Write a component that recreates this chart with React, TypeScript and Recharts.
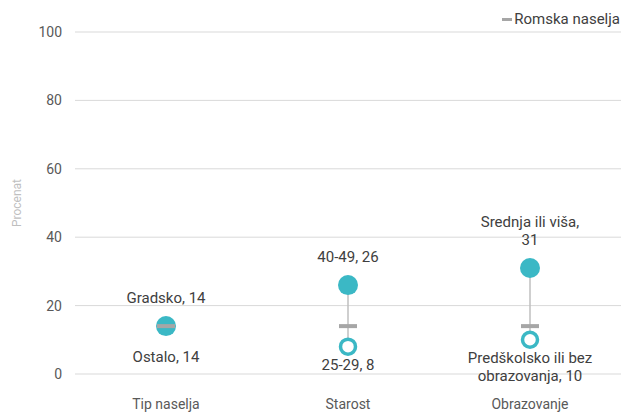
import React from 'react';
import { ComposedChart, Bar, Scatter, XAxis, YAxis, CartesianGrid } from 'recharts';

const categories = ['Tip naselja', 'Starost', 'Obrazovanje'];
const highValues = [14, 26, 31];
const lowValues = [14, 8, 10];
const romaValues = [14, 14, 14];
const highLabels = [['Gradsko, 14'], ['40-49, 26'], ['Srednja ili viša,', '31']];
const lowLabels = [['Ostalo, 14'], ['25-29, 8'], ['Predškolsko ili bez', 'obrazovanja, 10']];
const yTicks = [0, 20, 40, 60, 80, 100];

const TEAL = '#3bb8c5';
const GRAY = '#a6a6a6';
const TEXT = '#404040';
const FONT = 'Roboto, "Open Sans", sans-serif';

const data = categories.map((name, i) => ({
  name,
  high: highValues[i],
  low: lowValues[i],
  roma: romaValues[i],
  range: [lowValues[i], highValues[i]],
}));

const RangeLine = (props: any) => {
  const { x, y, width, height } = props;
  if (!height) return null;
  const cx = x + width / 2;
  return <line x1={cx} x2={cx} y1={y} y2={y + height} stroke="#bfbfbf" strokeWidth={1.5} />;
};

const HighDot = (props: any) => {
  const { cx, cy, index } = props;
  const lines = highLabels[index];
  const lastY = cy - 28;
  return (
    <g>
      <circle cx={cx} cy={cy} r={10} fill={TEAL} />
      {lines.map((t, k) => (
        <text key={k} x={cx} y={lastY - (lines.length - 1 - k) * 18} textAnchor="middle" dominantBaseline="central"
          fontSize={15} fill={TEXT} fontFamily={FONT}>{t}</text>
      ))}
    </g>
  );
};

const LowDot = (props: any) => {
  const { cx, cy, index } = props;
  const lines = lowLabels[index];
  const same = lowValues[index] === highValues[index];
  const firstY = cy + (same ? 31 : 18);
  return (
    <g>
      {!same && <circle cx={cx} cy={cy} r={7.5} fill="#fff" stroke={TEAL} strokeWidth={3.5} />}
      {lines.map((t, k) => (
        <text key={k} x={cx} y={firstY + k * 18} textAnchor="middle" dominantBaseline="central"
          fontSize={15} fill={TEXT} fontFamily={FONT}>{t}</text>
      ))}
    </g>
  );
};

const RomaDash = (props: any) => {
  const { cx, cy } = props;
  return <rect x={cx - 9} y={cy - 2} width={18} height={4} fill={GRAY} />;
};

export default function App() {
  return (
    <div style={{ position: 'absolute', left: 0, top: 0, width: 621, height: 412, background: '#fff' }}>
      <div style={{ position: 'absolute', top: 10, right: 1, display: 'flex', alignItems: 'center', fontFamily: FONT, fontSize: 15, color: TEXT, zIndex: 2 }}>
        <span style={{ display: 'inline-block', width: 10, height: 3, background: GRAY, marginRight: 2 }} />
        <span>Romska naselja</span>
      </div>
      <ComposedChart width={621} height={412} data={data} margin={{ top: 32, right: 0, bottom: 0, left: 0 }}>
        <CartesianGrid vertical={false} stroke="#d9d9d9" strokeWidth={1} />
        <XAxis dataKey="name" axisLine={false} tickLine={false} tickSize={0} tickMargin={25} height={38}
          tick={{ fontSize: 14, fill: '#595959', fontFamily: FONT }} />
        <YAxis domain={[0, 100]} ticks={yTicks} axisLine={false} tickLine={false} tickSize={0} tickMargin={13} width={75}
          tick={{ fontSize: 14, fill: '#595959', fontFamily: FONT }}
          label={{ value: 'Procenat', angle: -90, position: 'insideLeft', offset: 17, textAnchor: 'middle',
            style: { fontSize: 12, fill: '#bfbfbf', fontFamily: FONT, textAnchor: 'middle' } }} />
        <Bar dataKey="range" barSize={2} shape={<RangeLine />} isAnimationActive={false} />
        <Scatter dataKey="high" shape={<HighDot />} isAnimationActive={false} />
        <Scatter dataKey="low" shape={<LowDot />} isAnimationActive={false} />
        <Scatter dataKey="roma" shape={<RomaDash />} isAnimationActive={false} name="Romska naselja" />
      </ComposedChart>
    </div>
  );
}
